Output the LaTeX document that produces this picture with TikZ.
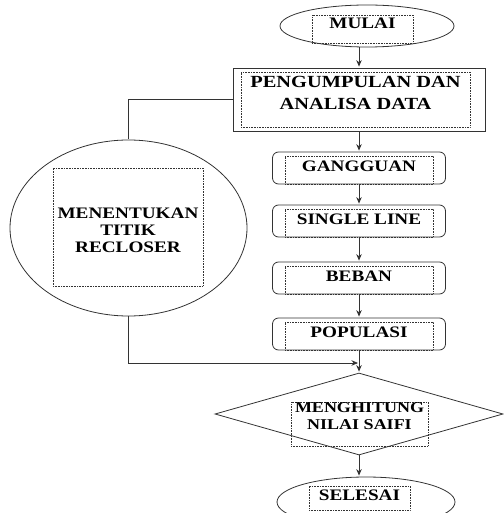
\documentclass[tikz,border=0pt]{standalone}
\usepackage{fontspec}
\setmainfont{Liberation Serif}[FakeStretch=1.2]
\usetikzlibrary{arrows.meta,shapes.geometric}

\begin{document}
\begin{tikzpicture}[->,>={Stealth[length=6.5pt,width=5.5pt]}, shorten >= 1pt, x=1pt, y=-1pt, node distance=56pt, line width=0.8pt, color=black!80]
        \tikzset{
           oval/.style={
                        ellipse,
                        draw,
                        inner sep=0pt,
                        minimum width=174pt,
                        minimum height=42pt
                       },
           procbox/.style={
                        rectangle,
                        draw,
                        inner sep=0pt,
                        minimum width=252pt,
                        minimum height=63pt
                       },
           stepbox/.style={
                        rectangle,
                        rounded corners=6pt,
                        draw,
                        inner sep=0pt,
                        minimum width=173pt,
                        minimum height=32pt
                       },
           decision/.style={
                        diamond,
                        draw,
                        inner sep=0pt,
                        minimum width=288pt,
                        minimum height=82pt
                       },
           textframe/.style={
                        rectangle,
                        draw,
                        densely dotted,
                        line width=0.6pt,
                        inner sep=0pt,
                        align=center,
                        text=black,
                        font=\bfseries\fontsize{16}{17}\selectfont
                       },
           steptext/.style={
                        textframe,
                        minimum width=148pt,
                        minimum height=28pt,
                        text height=15.3pt,
                        text depth=12.7pt,
                        yshift=-2pt
                       },
                 };
    \useasboundingbox (0,0) rectangle (503,513);
    %--------------------
        \node[procbox]  (peng) at (359,99.5) {};
        \node[oval]     (mulai) [above of=peng, node distance=73.5pt, xshift=8pt] {};
        \node[stepbox]  (gang) [below of=peng, node distance=68.5pt] {};
        \node[stepbox]  (single) [below of=gang, node distance=53pt] {};
        \node[stepbox]  (beban) [below of=single, node distance=57pt] {};
        \node[stepbox]  (pop) [below of=beban] {};
        \node[decision] (hitung) [below of=pop, node distance=80pt] {};
        \node[oval, minimum width=178pt, minimum height=50pt] (selesai) [below of=hitung, node distance=88pt, xshift=7pt] {};
        \node[oval, minimum width=237pt, minimum height=176pt] (recl) at (128.5,228) {};
        \coordinate [below of=pop, node distance=29pt] (join);
    %--------------------
        \node[textframe, minimum width=101pt, minimum height=28pt, text height=13.3pt, text depth=14.7pt, xshift=-4.5pt, yshift=-3pt] (mulaiT) at (mulai) {MULAI};
        \node[textframe, minimum width=229pt, minimum height=55pt, text height=37.3pt, text depth=17.7pt, xshift=-3.5pt, font=\bfseries\fontsize{17}{22}\selectfont] (pengT) at (peng) {PENGUMPULAN DAN\\ANALISA DATA};
        \node[steptext] (gangT) at (gang) {GANGGUAN};
        \node[steptext] (singleT) at (single) {SINGLE LINE};
        \node[steptext] (bebanT) at (beban) {BEBAN};
        \node[steptext] (popT) at (pop) {POPULASI};
        \node[textframe, minimum width=150pt, minimum height=118pt, text height=84.1pt, text depth=33.9pt, xshift=-0.5pt, yshift=1pt] (reclT) at (recl) {MENENTUKAN\\TITIK\\RECLOSER};
        \node[textframe, minimum width=137pt, minimum height=44pt, text height=27.5pt, text depth=16.5pt, xshift=0.5pt, yshift=-10pt, font=\bfseries\fontsize{15}{17}\selectfont] (hitungT) at (hitung) {MENGHITUNG\\NILAI SAIFI};
        \node[textframe, minimum width=101pt, minimum height=24pt, text height=14.3pt, text depth=9.7pt, xshift=-6.5pt, yshift=4pt] (selT) at (selesai) {SELESAI};
    %--------------------
        \path (mulai.south -| peng.north) edge (peng.north)
              (peng)   edge (gang)
              (gang)   edge (single)
              (single) edge (beban)
              (beban)  edge (pop)
              (pop)    edge (hitung)
              (hitung.south) edge (hitung.south |- selesai.north)
        ;
        \draw[-] (peng.west) -| (recl.north);
        \draw (recl.south) |- (join);
    \end{tikzpicture}
\end{document}
